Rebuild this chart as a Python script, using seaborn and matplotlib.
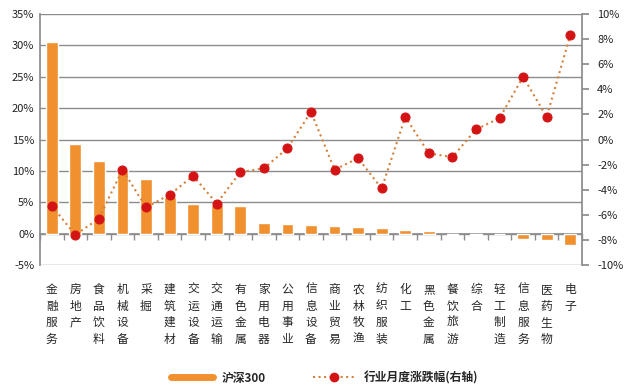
import numpy as np
import pandas as pd
import seaborn as sns
import matplotlib
matplotlib.use('Agg')
from matplotlib import pyplot as plt
from matplotlib.lines import Line2D
from matplotlib.ticker import FuncFormatter

industries = ['金融服务', '房地产', '食品饮料', '机械设备', '采掘', '建筑建材', '交运设备',
              '交通运输', '有色金属', '家用电器', '公用事业', '信息设备', '商业贸易', '农林牧渔',
              '纺织服装', '化工', '黑色金属', '餐饮旅游', '综合', '轻工制造', '信息服务',
              '医药生物', '电子']

# contribution to 沪深300 (left axis, %)
hs300 = [30.6, 14.3, 11.6, 10.1, 8.7, 5.8, 4.7, 4.6, 4.4, 1.7, 1.5, 1.4, 1.2, 1.1,
         0.9, 0.6, 0.4, -0.2, -0.2, 0.0, -0.9, -1.0, -1.8]

# monthly industry change (right axis, %)
monthly_chg = [-5.3, -7.6, -6.3, -2.4, -5.4, -4.4, -2.9, -5.1, -2.6, -2.3, -0.7, 2.2,
               -2.4, -1.5, -3.9, 1.8, -1.1, -1.4, 0.8, 1.7, 5.0, 1.8, 8.3]

left_ticks = [-5, 0, 5, 10, 15, 20, 25, 30, 35]
right_ticks = [-10, -8, -6, -4, -2, 0, 2, 4, 6, 8, 10]

df = pd.DataFrame({'industry': industries, 'hs300': hs300, 'chg': monthly_chg})
df['pos'] = np.arange(len(df))

sns.set_theme(style='white')
plt.rcParams['font.family'] = ['Noto Sans CJK SC', 'DejaVu Sans']

bar_color = '#F0902F'
line_color = '#D4823E'
marker_color = '#D41414'
grid_color = '#8C8C8C'

fig = plt.figure(figsize=(6.26, 3.92), dpi=100)
ax = fig.add_axes([40 / 626, 1 - 265 / 392, 542 / 626, 251 / 392])

sns.barplot(data=df, x='pos', y='hs300', color=bar_color, width=0.5, saturation=1,
            ax=ax, zorder=3)
ax.set_ylim(-5, 35)
ax.set_xlim(-0.5, len(df) - 0.5)
ax.set_yticks(left_ticks)
ax.yaxis.set_major_formatter(FuncFormatter(lambda v, p: f'{v:.0f}%'))
ax.yaxis.grid(True, color=grid_color, linewidth=1)
ax.set_axisbelow(True)
ax.set_xticks(df['pos'])
ax.set_xticklabels(['\n'.join(s) for s in industries], fontsize=8.5, linespacing=1.35,
                   va='top')
ax.tick_params(axis='x', length=0, pad=13)
ax.tick_params(axis='y', length=0, labelsize=8, pad=4, colors='#222222')
ax.set_xlabel('')
ax.set_ylabel('')
for side in ['top', 'right', 'bottom']:
    ax.spines[side].set_visible(False)
ax.spines['left'].set_color(grid_color)

# category axis crossing at 0%
zero_axis = ax.secondary_xaxis(0, transform=ax.transData)
zero_axis.set_xticks(np.arange(len(df) + 1) - 0.5)
zero_axis.set_xticklabels([])
zero_axis.tick_params(axis='x', length=4, direction='out', color=grid_color, width=1)
zero_axis.spines['bottom'].set_color(grid_color)

ax2 = ax.twinx()
sns.lineplot(data=df, x='pos', y='chg', ax=ax2, color=line_color, linestyle=':',
             linewidth=1.5, marker='o', markersize=6.5, markerfacecolor=marker_color,
             markeredgecolor=marker_color, zorder=4)
ax2.set_ylim(-10, 10)
ax2.set_yticks(right_ticks)
ax2.yaxis.set_major_formatter(FuncFormatter(lambda v, p: f'{v:.0f}%'))
ax2.tick_params(axis='y', length=5, direction='out', color=grid_color, labelsize=8,
                pad=6, colors='#222222')
ax2.tick_params(axis='y', colors=grid_color, labelcolor='#222222')
ax2.set_ylabel('')
ax2.set_xlabel('')
ax2.grid(False)
for side in ['top', 'left', 'bottom']:
    ax2.spines[side].set_visible(False)
ax2.spines['right'].set_color(grid_color)
ax.set_xlim(-0.5, len(df) - 0.5)

handles = [Line2D([0], [0], color=bar_color, linewidth=5),
           Line2D([0], [0], color=line_color, linestyle=':', linewidth=1.5, marker='o',
                  markersize=6, markerfacecolor=marker_color, markeredgecolor=marker_color)]
fig.legend(handles, ['沪深300', '行业月度涨跌幅(右轴)'], loc='center',
           bbox_to_anchor=(325 / 626, 1 - 378 / 392), ncol=2, frameon=False,
           prop={'size': 8.5, 'weight': 'bold'}, handlelength=3.5, columnspacing=4)

fig.savefig('out.png', dpi=100)
